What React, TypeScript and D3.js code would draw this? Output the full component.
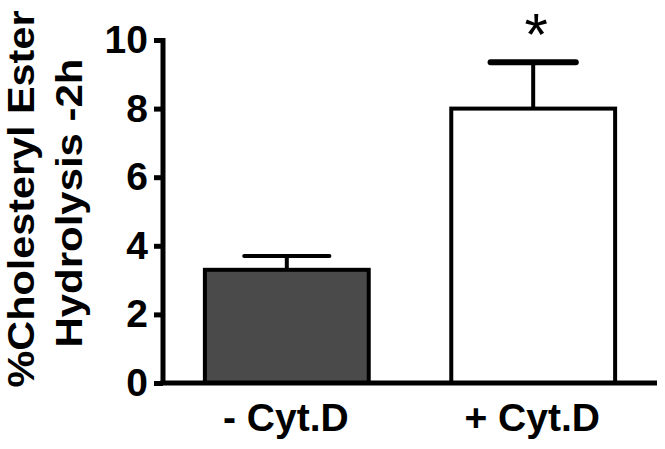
import React, { useEffect, useRef } from 'react';
import * as d3 from 'd3';

const categories = ['- Cyt.D', '+ Cyt.D'];
const means = [3.3, 8.0];
const errors = [0.4, 1.35];
const fills = ['#4a4a4a', '#ffffff'];
const significance = ['', '*'];
const yTicks = [0, 2, 4, 6, 8, 10];
const yLabelLines = ['%Cholesteryl Ester', 'Hydrolysis -2h'];

function App() {
    const svgRef = useRef<SVGSVGElement>(null);

    useEffect(() => {
        const width = 665;
        const height = 449;
        const font = 'Liberation Sans, Arial, sans-serif';

        const svg = d3.select(svgRef.current)
            .attr('width', width)
            .attr('height', height);

        svg.selectAll('*').remove();

        const x = d3.scaleBand<string>()
            .domain(categories)
            .range([163, 657])
            .paddingInner(0.335)
            .paddingOuter(0.17);

        const y = d3.scaleLinear()
            .domain([0, 10])
            .range([383, 40]);

        const rows = categories.map((c, i) => ({
            cat: c, mean: means[i], err: errors[i], fill: fills[i], sig: significance[i],
        }));

        // error bars (drawn first so bar border sits on top of stem)
        rows.forEach((d, i) => {
            const cx = x(d.cat)! + x.bandwidth() / 2;
            const capW = x.bandwidth() * 0.52;
            svg.append('line')
                .attr('x1', cx).attr('x2', cx)
                .attr('y1', y(d.mean)).attr('y2', y(d.mean + d.err))
                .attr('stroke', '#000').attr('stroke-width', 4);
            svg.append('line')
                .attr('x1', cx - capW / 2).attr('x2', cx + capW / 2)
                .attr('y1', y(d.mean + d.err)).attr('y2', y(d.mean + d.err))
                .attr('stroke', '#000').attr('stroke-width', i === 1 ? 6 : 4)
                .attr('stroke-linecap', 'round');
            if (d.sig) {
                svg.append('text')
                    .attr('x', cx + 3)
                    .attr('y', 55)
                    .attr('text-anchor', 'middle')
                    .attr('font-family', font)
                    .attr('font-size', 60)
                    .attr('fill', '#000')
                    .text(d.sig);
            }
        });

        svg.selectAll('rect.bar')
            .data(rows)
            .enter()
            .append('rect')
            .attr('class', 'bar')
            .attr('x', d => x(d.cat)!)
            .attr('y', d => y(d.mean))
            .attr('width', x.bandwidth())
            .attr('height', d => y(0) - y(d.mean))
            .attr('fill', d => d.fill)
            .attr('stroke', '#000')
            .attr('stroke-width', 4);

        // y axis
        const yAxis = svg.append('g')
            .attr('transform', 'translate(163,0)')
            .call(d3.axisLeft(y).tickValues(yTicks).tickSize(9).tickPadding(6).tickSizeOuter(0));
        yAxis.select('.domain')
            .attr('stroke', '#000').attr('stroke-width', 5)
            .attr('d', `M0,${y(10) - 2}V${y(0)}`);
        yAxis.selectAll('.tick line').attr('stroke', '#000').attr('stroke-width', 5);
        yAxis.selectAll('.tick text')
            .attr('font-family', font)
            .attr('font-weight', 'bold')
            .attr('font-size', 39)
            .attr('fill', '#000');

        // x axis
        const xAxis = svg.append('g')
            .attr('transform', `translate(0,${y(0)})`)
            .call(d3.axisBottom(x).tickSize(0).tickPadding(20));
        xAxis.select('.domain')
            .attr('stroke', '#000').attr('stroke-width', 5)
            .attr('d', `M160.5,0H657`);
        xAxis.selectAll('.tick text')
            .attr('font-family', font)
            .attr('font-weight', 'bold')
            .attr('font-size', 39)
            .attr('fill', '#000')
            .attr('dx', -1)
            .attr('dy', '0.71em');

        // y label
        const lines = [
            { text: yLabelLines[0], x: 34, cy: 199, len: 377 },
            { text: yLabelLines[1], x: 82, cy: 203, len: 289 },
        ];
        lines.forEach(l => {
            svg.append('text')
                .attr('transform', `translate(${l.x},${l.cy}) rotate(-90)`)
                .attr('text-anchor', 'middle')
                .attr('font-family', font)
                .attr('font-weight', 'bold')
                .attr('font-size', 36)
                .attr('textLength', l.len)
                .attr('lengthAdjust', 'spacingAndGlyphs')
                .attr('fill', '#000')
                .text(l.text);
        });
    }, []);

    return <svg ref={svgRef} style={{ position: 'absolute', left: 0, top: 0, background: '#fff' }}></svg>;
}

export default App;
